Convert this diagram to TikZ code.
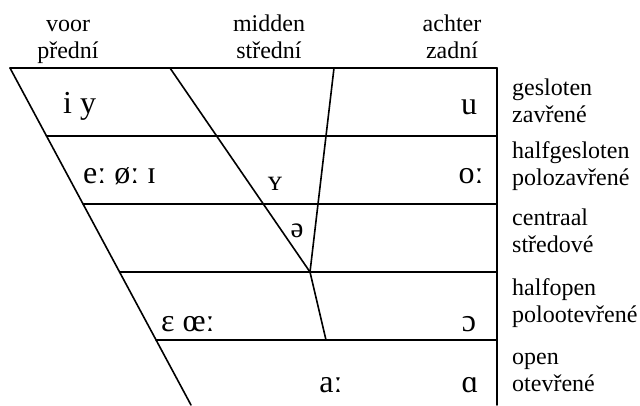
\documentclass[tikz,border=0pt]{standalone}
\usepackage{fontspec}
\setmainfont{Liberation Serif}
\begin{document}
\begin{tikzpicture}[x=1pt,y=-1pt,
  grid/.style={line width=1.6pt, line cap=round},
  lab/.style={font=\fontsize{24}{27}\selectfont, inner sep=0pt},
  vow/.style={font=\fontsize{32}{36}\selectfont, inner sep=0pt}]
\useasboundingbox (0,0) rectangle (640,405);
\fill[white] (0,0) rectangle (640,405);
% corner coordinates
\coordinate (L0) at (10,68);
\coordinate (L1) at (46.5,136);
\coordinate (L2) at (83,204);
\coordinate (L3) at (119.5,272);
\coordinate (L4) at (156,340);
\coordinate (L5) at (191,405);
\coordinate (R0) at (497,68);
\coordinate (R1) at (497,136);
\coordinate (R2) at (497,204);
\coordinate (R3) at (497,272);
\coordinate (R4) at (497,340);
\coordinate (R5) at (497,405);
\coordinate (M0) at (170,68);
\coordinate (MJ) at (310,272);
\coordinate (B0) at (334,68);
\coordinate (B4) at (326,340);
% grid
\draw[grid] (L0) -- (R0);
\draw[grid] (L1) -- (R1);
\draw[grid] (L2) -- (R2);
\draw[grid] (L3) -- (R3);
\draw[grid] (L4) -- (R4);
\draw[grid] (R0) -- (R5);
\draw[grid] (L0) -- (L5);
\draw[grid] (M0) -- (MJ);
\draw[grid] (B0) -- (MJ);
\draw[grid] (MJ) -- (B4);
% column labels
\node[lab, anchor=base] (voor) at (68,31) {voor};
\node[lab, anchor=base] (predni) at (68,58) {přední};
\node[lab, anchor=base] (midden) at (269,31) {midden};
\node[lab, anchor=base] (stredni) at (269,58) {střední};
\node[lab, anchor=base] (achter) at (452,31) {achter};
\node[lab, anchor=base] (zadni) at (452,58) {zadní};
% row labels
\node[lab, anchor=base west] (r1a) at (512,95) {gesloten};
\node[lab, anchor=base west] (r1b) at (512,122) {zavřené};
\node[lab, anchor=base west] (r2a) at (512,158) {halfgesloten};
\node[lab, anchor=base west] (r2b) at (512,185) {polozavřené};
\node[lab, anchor=base west] (r3a) at (512,225) {centraal};
\node[lab, anchor=base west] (r3b) at (512,252) {středové};
\node[lab, anchor=base west] (r4a) at (512,295) {halfopen};
\node[lab, anchor=base west] (r4b) at (512,322) {polootevřené};
\node[lab, anchor=base west] (r5a) at (512,364) {open};
\node[lab, anchor=base west] (r5b) at (512,391) {otevřené};
% vowels
\node[vow, anchor=base west] (iy) at (63,113) {i y};
\node[vow, anchor=base] (u) at (469,114) {u};
\node[vow, anchor=base west] (e) at (83,183) {eː øː ɪ};
\node[vow, anchor=base] (o) at (471,183) {oː};
\node[vow, font=\fontsize{29}{32}\selectfont, anchor=base] (Y) at (275,190) {ʏ};
\node[vow, font=\fontsize{29}{32}\selectfont, anchor=base] (schwa) at (297,237) {ə};
\node[vow, anchor=base west] (eps) at (161,331) {ɛ œː};
\node[vow, anchor=base] (oo) at (469,331) {ɔ};
\node[vow, anchor=base] (a) at (331,392) {aː};
\node[vow, anchor=base] (alpha) at (470,392) {ɑ};
\end{tikzpicture}
\end{document}
